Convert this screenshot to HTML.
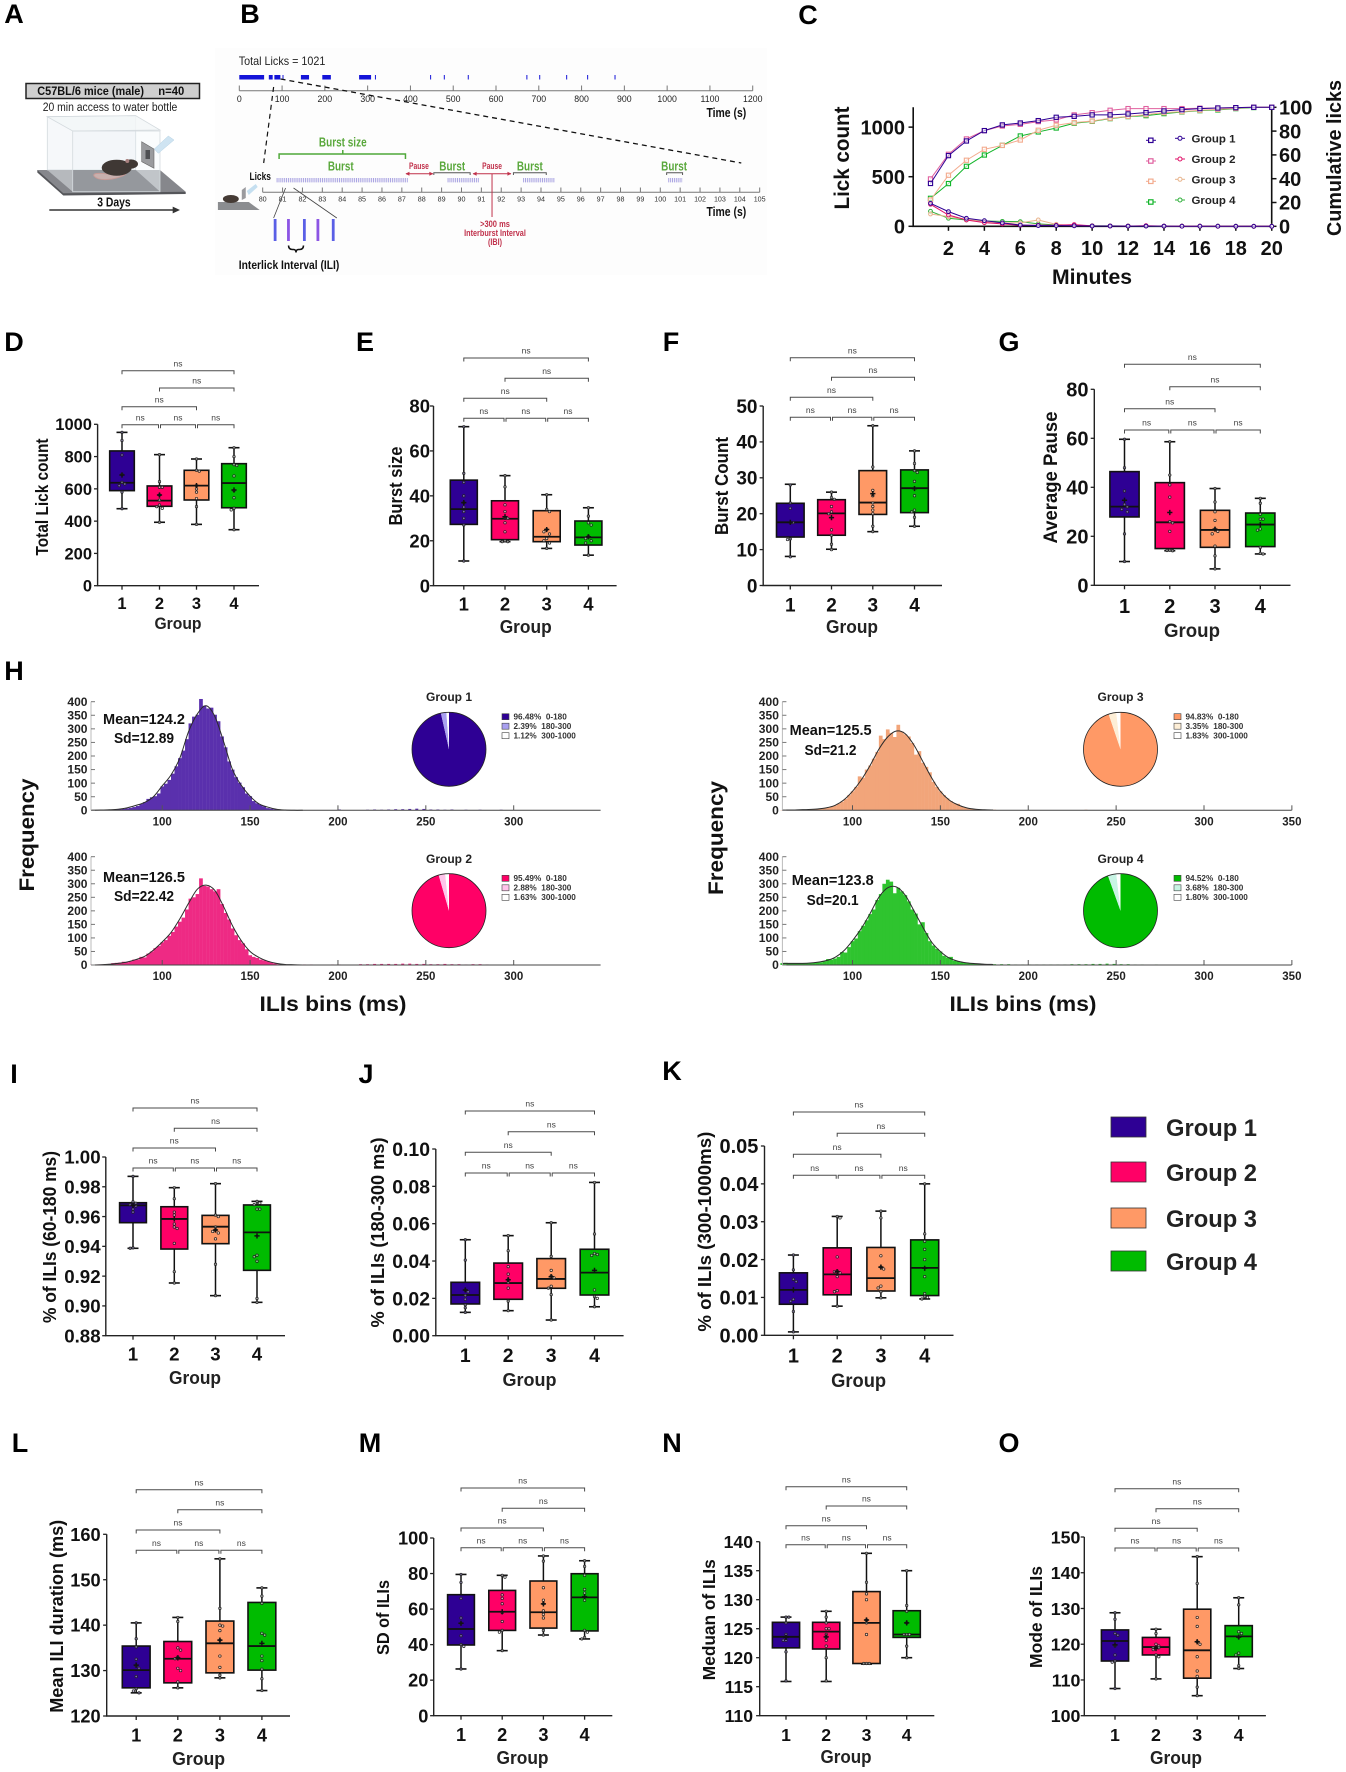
<!DOCTYPE html>
<html lang="en">
<head>
<meta charset="utf-8">
<title>Lick microstructure figure</title>
<style>
html,body{margin:0;padding:0;background:#fff;}
#figure{display:block;position:absolute;left:0;top:0;font-family:"Liberation Sans",sans-serif;}
.letter{font-size:27px;font-weight:700;fill:#000;text-anchor:middle;}
.ytitle{font-weight:700;fill:#111;text-anchor:middle;}
.grouplabel{font-weight:700;fill:#222;text-anchor:middle;}
.big{font-weight:700;fill:#111;text-anchor:middle;}
.stat{font-weight:700;fill:#111;font-size:15px;}
.pietitle{font-weight:700;fill:#222;font-size:12px;text-anchor:middle;}
</style>
</head>
<body>
<svg id="figure" xmlns="http://www.w3.org/2000/svg" width="1346" height="1772" viewBox="0 0 1346 1772">
<rect width="1346" height="1772" fill="#ffffff"/>

<!-- panel letters -->
<g>
<text class="letter" x="14" y="23">A</text>
<text class="letter" x="250" y="23">B</text>
<text class="letter" x="808" y="24">C</text>
<text class="letter" x="14" y="351">D</text>
<text class="letter" x="365" y="351">E</text>
<text class="letter" x="671" y="351">F</text>
<text class="letter" x="1009" y="351">G</text>
<text class="letter" x="14" y="680">H</text>
<text class="letter" x="14" y="1083">I</text>
<text class="letter" x="366" y="1083">J</text>
<text class="letter" x="672" y="1080">K</text>
<text class="letter" x="20" y="1452">L</text>
<text class="letter" x="370" y="1452">M</text>
<text class="letter" x="672" y="1452">N</text>
<text class="letter" x="1009" y="1452">O</text>
</g>

<!-- Panel A -->
<g>
<rect x="26" y="83.5" width="173.5" height="15" fill="#cfcfcf" stroke="#222" stroke-width="1.5"/>
<text x="37.3" y="95" font-size="12" font-weight="700" fill="#111" textLength="106.7" lengthAdjust="spacingAndGlyphs">C57BL/6 mice (male)</text>
<text x="158.3" y="95" font-size="12" font-weight="700" fill="#111" textLength="26" lengthAdjust="spacingAndGlyphs">n=40</text>
<text x="42.7" y="111" font-size="11.5" fill="#222" textLength="134.6" lengthAdjust="spacingAndGlyphs">20 min access to water bottle</text>
<polygon points="37.3,170 37.3,172.5 63.3,195.5 185.7,194 185.7,191.7" fill="#55565a"/>
<polygon points="37.3,170 160,170 185.7,191.7 63.3,193.3" fill="#86878c"/>
<polygon points="47.3,116.7 135.7,115.7 135.7,170 47.3,170" fill="#f6f8fa" stroke="#d4dade" stroke-width=".8"/>
<polygon points="47.3,170 72.7,170 72.7,191.7" fill="#b6b9bd"/>
<polygon points="135.7,170 160,170 160,191.7" fill="#b6b9bd"/>
<polygon points="72.7,170 135.7,170 160,191.7 72.7,191.7" fill="#7e7f85"/>
<polygon points="47.3,116.7 135.7,115.7 160,130 72.7,131" fill="#f2f6f8" fill-opacity=".8" stroke="#d4dade" stroke-width=".8"/>
<rect x="72.7" y="131" width="87.3" height="60.7" fill="#eaf0f4" fill-opacity=".22" stroke="#d4dade" stroke-width=".8"/>
<polygon points="141.7,141.7 154,149 154,168.3 141.7,161.7" fill="#9a9b9e" stroke="#666" stroke-width=".6"/>
<rect x="145.5" y="150" width="4.5" height="9" fill="#4f5053"/>
<polygon points="154.3,149 168.3,136 174,140 158.3,153.3" fill="#cfe4f2" stroke="#b5d2e4" stroke-width=".5"/>
<path d="M108 174 Q92 172 94 176 Q98 181 112 179 Q122 177 126 174" fill="#d9b8b4" fill-opacity=".75" stroke="#c79a96" stroke-width="1"/>
<ellipse cx="116.7" cy="167.7" rx="15" ry="8" fill="#3f3834"/>
<ellipse cx="131" cy="164" rx="7" ry="4.6" fill="#3f3834"/>
<circle cx="127.3" cy="161" r="2" fill="#a8807e"/>
<text x="97.3" y="206.3" font-size="13" font-weight="700" fill="#111" textLength="33.4" lengthAdjust="spacingAndGlyphs">3 Days</text>
<line x1="49.3" y1="210" x2="174" y2="210" stroke="#333" stroke-width="1.6"/>
<polygon points="172.7,206.6 180,210 172.7,213.4" fill="#333"/>
</g>

<!-- Panel B static annotation -->
<g transform="scale(.995 1)">
<rect x="216" y="48" width="555" height="227" fill="#fdfdfd"/>
<text x="240" y="65" font-size="11.5" fill="#222" textLength="87" lengthAdjust="spacingAndGlyphs">Total Licks = 1021</text>
<g id="panel-b-dynamic"></g>
<text x="710" y="117" font-size="12.5" font-weight="700" fill="#111" textLength="40" lengthAdjust="spacingAndGlyphs">Time (s)</text>
<text x="710" y="216" font-size="12.5" font-weight="700" fill="#111" textLength="40" lengthAdjust="spacingAndGlyphs">Time (s)</text>
<line x1="275" y1="87" x2="265" y2="163" stroke="#111" stroke-width="1.2" stroke-dasharray="5 4"/>
<line x1="282" y1="79" x2="745" y2="163" stroke="#111" stroke-width="1.3" stroke-dasharray="5 4"/>
<text x="344.5" y="146.5" font-size="13" font-weight="700" fill="#5aa83c" text-anchor="middle" textLength="48" lengthAdjust="spacingAndGlyphs">Burst size</text>
<path d="M280.5 159 V154 H407.5 V159 M344.5 154 V150" fill="none" stroke="#4fa83a" stroke-width="1.5"/>
<g font-size="13" font-weight="700" fill="#5aa83c" text-anchor="middle">
<text x="342.5" y="170.5" textLength="26" lengthAdjust="spacingAndGlyphs">Burst</text>
<text x="454.5" y="170.5" textLength="26" lengthAdjust="spacingAndGlyphs">Burst</text>
<text x="532.5" y="170.5" textLength="26" lengthAdjust="spacingAndGlyphs">Burst</text>
<text x="677.5" y="170.5" textLength="26" lengthAdjust="spacingAndGlyphs">Burst</text>
</g>
<path d="M436 175 V172.7 H472.5 V175 M516 175 V172.7 H549 V175 M670 175 V172.7 H686 V175" fill="none" stroke="#555" stroke-width="1"/>
<g fill="#c0304a" font-size="9" font-weight="700" text-anchor="middle">
<text x="421" y="169" textLength="20" lengthAdjust="spacingAndGlyphs">Pause</text>
<text x="494.5" y="169" textLength="20" lengthAdjust="spacingAndGlyphs">Pause</text>
<path d="M408 173.7 H435 M475.5 173.7 H513.5" stroke="#c0304a" stroke-width="1" fill="none"/>
<path d="M407.5 173.7 l4 -2 v4 z M435.5 173.7 l-4 -2 v4 z M475 173.7 l4 -2 v4 z M514 173.7 l-4 -2 v4 z"/>
<line x1="494.5" y1="174" x2="494.5" y2="217" stroke="#c0304a" stroke-width="1"/>
<text x="497.5" y="227" textLength="30" lengthAdjust="spacingAndGlyphs">&gt;300 ms</text>
<text x="497.5" y="236" textLength="62" lengthAdjust="spacingAndGlyphs">Interburst Interval</text>
<text x="497.5" y="245" textLength="14" lengthAdjust="spacingAndGlyphs">(IBI)</text>
</g>
<text x="261.5" y="180" font-size="11" font-weight="700" fill="#111" text-anchor="middle" textLength="21.5" lengthAdjust="spacingAndGlyphs">Licks</text>
<polygon points="219,202 250,202 261,210 219,210" fill="#8b8d90"/>
<ellipse cx="232" cy="199" rx="8" ry="4" fill="#453b35"/>
<polygon points="243,190 247,187 247,198 243,200" fill="#9a9a9e"/>
<polygon points="248,191 257,184 259,187 250,195" fill="#c5dff0"/>
<path d="M287 188 L275 218 M295 188 L338.5 218" fill="none" stroke="#444" stroke-width=".8"/>
<path d="M290 245.5 q0 4 4 4 h1 q2.5 0 2.5 3 q0 -3 2.5 -3 h1 q4 0 4 -4" fill="none" stroke="#111" stroke-width="1.6"/>
<text x="240" y="269" font-size="12" font-weight="700" fill="#111" textLength="101" lengthAdjust="spacingAndGlyphs">Interlick Interval (ILI)</text>
</g>

<!-- Panel C static titles -->
<text class="ytitle" font-size="21" transform="translate(849 158) rotate(-90)" textLength="103" lengthAdjust="spacingAndGlyphs">Lick count</text>
<text class="ytitle" font-size="20" transform="translate(1341 158) rotate(-90)" textLength="156" lengthAdjust="spacingAndGlyphs">Cumulative licks</text>
<text class="big" x="1092" y="284" font-size="21" textLength="80" lengthAdjust="spacingAndGlyphs">Minutes</text>

<!-- Box panel titles -->
<g>
<text class="ytitle" font-size="17.5" transform="translate(48 497) rotate(-90)" textLength="117" lengthAdjust="spacingAndGlyphs">Total Lick count</text>
<text class="grouplabel" x="178" y="629" font-size="16.5" textLength="47" lengthAdjust="spacingAndGlyphs">Group</text>
<text class="ytitle" font-size="18.5" transform="translate(402 486) rotate(-90)" textLength="79" lengthAdjust="spacingAndGlyphs">Burst size</text>
<text class="grouplabel" x="525.7" y="633" font-size="18" textLength="52" lengthAdjust="spacingAndGlyphs">Group</text>
<text class="ytitle" font-size="18.5" transform="translate(728 486) rotate(-90)" textLength="98" lengthAdjust="spacingAndGlyphs">Burst Count</text>
<text class="grouplabel" x="852" y="633" font-size="18" textLength="52" lengthAdjust="spacingAndGlyphs">Group</text>
<text class="ytitle" font-size="19.5" transform="translate(1057 477.5) rotate(-90)" textLength="132" lengthAdjust="spacingAndGlyphs">Average Pause</text>
<text class="grouplabel" x="1192" y="637" font-size="19" textLength="56" lengthAdjust="spacingAndGlyphs">Group</text>
<text class="ytitle" font-size="18.5" transform="translate(56 1237) rotate(-90)" textLength="172" lengthAdjust="spacingAndGlyphs">% of ILIs (60-180 ms)</text>
<text class="grouplabel" x="195" y="1384" font-size="18" textLength="52" lengthAdjust="spacingAndGlyphs">Group</text>
<text class="ytitle" font-size="18.5" transform="translate(384 1232.5) rotate(-90)" textLength="190" lengthAdjust="spacingAndGlyphs">% of ILIs (180-300 ms)</text>
<text class="grouplabel" x="529.5" y="1386" font-size="18.5" textLength="54" lengthAdjust="spacingAndGlyphs">Group</text>
<text class="ytitle" font-size="18.5" transform="translate(711 1231.7) rotate(-90)" textLength="200" lengthAdjust="spacingAndGlyphs">% of ILIs (300-1000ms)</text>
<text class="grouplabel" x="858.6" y="1387" font-size="19" textLength="55" lengthAdjust="spacingAndGlyphs">Group</text>
<text class="ytitle" font-size="18.5" transform="translate(63 1616.3) rotate(-90)" textLength="193" lengthAdjust="spacingAndGlyphs">Mean ILI duration (ms)</text>
<text class="grouplabel" x="198.6" y="1765" font-size="18.5" textLength="53" lengthAdjust="spacingAndGlyphs">Group</text>
<text class="ytitle" font-size="17.5" transform="translate(389 1617.5) rotate(-90)" textLength="75" lengthAdjust="spacingAndGlyphs">SD of ILIs</text>
<text class="grouplabel" x="522.5" y="1764" font-size="18" textLength="52" lengthAdjust="spacingAndGlyphs">Group</text>
<text class="ytitle" font-size="17.5" transform="translate(715 1619.7) rotate(-90)" textLength="121" lengthAdjust="spacingAndGlyphs">Meduan of ILIs</text>
<text class="grouplabel" x="846" y="1763" font-size="18" textLength="51" lengthAdjust="spacingAndGlyphs">Group</text>
<text class="ytitle" font-size="17.5" transform="translate(1042 1617) rotate(-90)" textLength="102" lengthAdjust="spacingAndGlyphs">Mode of ILIs</text>
<text class="grouplabel" x="1176" y="1764" font-size="18" textLength="52" lengthAdjust="spacingAndGlyphs">Group</text>
</g>

<!-- Panel H static text -->
<g>
<text class="ytitle" font-size="21" transform="translate(34 835) rotate(-90)" textLength="113" lengthAdjust="spacingAndGlyphs">Frequency</text>
<text class="ytitle" font-size="21" transform="translate(723 838) rotate(-90)" textLength="114" lengthAdjust="spacingAndGlyphs">Frequency</text>
<text class="big" x="333" y="1011" font-size="21" textLength="147" lengthAdjust="spacingAndGlyphs">ILIs bins (ms)</text>
<text class="big" x="1023" y="1011" font-size="21" textLength="147" lengthAdjust="spacingAndGlyphs">ILIs bins (ms)</text>
</g>

<g id="charts"></g>

<!-- Histogram annotations drawn above bars -->
<g>
<text class="stat" x="103" y="724" textLength="82" lengthAdjust="spacingAndGlyphs">Mean=124.2</text>
<text class="stat" x="114" y="743" textLength="60" lengthAdjust="spacingAndGlyphs">Sd=12.89</text>
<text class="pietitle" x="449" y="701">Group 1</text>
<text class="stat" x="103" y="882" textLength="82" lengthAdjust="spacingAndGlyphs">Mean=126.5</text>
<text class="stat" x="114" y="901" textLength="60" lengthAdjust="spacingAndGlyphs">Sd=22.42</text>
<text class="pietitle" x="449" y="863">Group 2</text>
<text class="stat" x="789.6" y="735" textLength="82" lengthAdjust="spacingAndGlyphs">Mean=125.5</text>
<text class="stat" x="804.5" y="755" textLength="52" lengthAdjust="spacingAndGlyphs">Sd=21.2</text>
<text class="pietitle" x="1120.5" y="701">Group 3</text>
<text class="stat" x="791.7" y="885" textLength="82" lengthAdjust="spacingAndGlyphs">Mean=123.8</text>
<text class="stat" x="806.6" y="905" textLength="52" lengthAdjust="spacingAndGlyphs">Sd=20.1</text>
<text class="pietitle" x="1120.5" y="863">Group 4</text>
</g>

<!-- Shared legend -->
<g font-size="24" font-weight="700" fill="#222">
<rect x="1111" y="1117" width="35" height="20" fill="#2e0094" stroke="#333" stroke-width=".8"/>
<text x="1166" y="1136" textLength="91" lengthAdjust="spacingAndGlyphs">Group 1</text>
<rect x="1111" y="1162" width="35" height="20" fill="#ff0066" stroke="#333" stroke-width=".8"/>
<text x="1166" y="1181" textLength="91" lengthAdjust="spacingAndGlyphs">Group 2</text>
<rect x="1111" y="1208" width="35" height="20" fill="#ff9966" stroke="#333" stroke-width=".8"/>
<text x="1166" y="1227" textLength="91" lengthAdjust="spacingAndGlyphs">Group 3</text>
<rect x="1111" y="1251" width="35" height="20" fill="#00bb00" stroke="#333" stroke-width=".8"/>
<text x="1166" y="1270" textLength="91" lengthAdjust="spacingAndGlyphs">Group 4</text>
</g>
</svg>

<script>
/* ---------- Panel B data ---------- */
const overviewTicks = [0,100,200,300,400,500,600,700,800,900,1000,1100,1200];
const lickRunStarts = [0,69,82,101,144,194,280,317,446,478,534,671,701,764,813,877];
const lickRunEnds   = [58,78,96,102,163,214,308,319,447,479,535,672,702,765,814,878];
const zoomTicks = [80,81,82,83,84,85,86,87,88,89,90,91,92,93,94,95,96,97,98,99,100,101,102,103,104,105];
const burstStarts = [80.7,89.3,93.1,100.4];
const burstEnds   = [87.3,90.9,94.7,101.1];
const iliSample = [0,0.67,1.47,2.15,2.92];

/* ---------- Panel C data ---------- */
const minutes = [1,2,3,4,5,6,7,8,9,10,11,12,13,14,15,16,17,18,19,20];
const cMinuteTicks = [2,4,6,8,10,12,14,16,18,20];
const cLeftTicks = [0,500,1000];
const cRightTicks = [0,20,40,60,80,100];
const cumG1 = [36,59.4,71.7,80.4,85.2,86.8,88.8,91.6,92.4,93.6,93.6,94.4,95.5,96.9,98,98.9,99.4,99.7,100,100];
const cumG2 = [39.8,60.5,73.4,80.4,84.3,85.7,88,89.4,93.6,95.5,97.5,98.9,98.9,98.9,98.9,99.2,99.4,99.7,100,100];
const cumG3 = [22.1,42.9,55.5,64.7,68,72.5,80.7,84.9,87.1,88.5,90.8,92.4,93.8,95.5,96.4,97.5,98.3,99.2,100,100];
const cumG4 = [23.5,35.9,50.4,59.9,68,75.9,79.3,82.6,86.6,88.2,90.5,92.2,93,94.7,96.1,97.2,97.8,98.9,99.8,100];
const licksG1 = [232,148,81,57,34,13,7,7,5,3,3,2,2,2,1,1,1,0,0,0];
const licksG2 = [222,114,64,37,24,10,10,10,17,4,3,2,6,2,1,1,0,0,0,0];
const licksG3 = [124,97,71,47,34,34,64,20,8,5,4,3,3,2,2,1,1,0,0,0];
const licksG4 = [151,81,64,54,50,47,24,13,10,5,4,3,2,2,2,1,1,1,0,0];

/* ---------- Box panel data ---------- */
const groupLabels = ['1','2','3','4'];

const dTicks = [0,200,400,600,800,1000];
const dTickLabels = ['0','200','400','600','800','1000'];
const dLow = [477,393,380,347];
const dQ1 = [589,492,531,483];
const dMed = [638,527,620,636];
const dQ3 = [835,618,715,756];
const dHigh = [950,812,785,855];
const dMean = [686,562,620,593];
const dPoints = [[950,900,810,690,640,630,620,580,477],[812,645,610,610,562,530,500,490,480,393],[785,715,710,620,600,580,540,490,380],[855,800,750,745,680,590,545,480,470,347]];

const eTicks = [0,20,40,60,80];
const eTickLabels = ['0','20','40','60','80'];
const eLow = [11,19.6,16.6,13.6];
const eQ1 = [27.3,20.5,19.6,18.1];
const eMed = [34.1,29.8,21.8,21.5];
const eQ3 = [47,37.8,33.4,28.8];
const eHigh = [70.8,49,40.5,34.7];
const eMean = [37,30.7,25,21.8];
const ePoints = [[70.8,50,46,40,37,35,33,30,27,11],[49,44,36,33,30,30,28,24,20,19.6,19.6],[40.5,34,33,25,24,23,21,20,19,16.6],[34.7,31,28,27,22,21,20,19,13.6]];

const fTicks = [0,10,20,30,40,50];
const fTickLabels = ['0','10','20','30','40','50'];
const fLow = [8.1,10.1,15,16.5];
const fQ1 = [13.5,14,19.8,20.3];
const fMed = [17.6,20.1,23.1,27.1];
const fQ3 = [22.9,23.9,32,32.2];
const fHigh = [28.2,26,44.5,37.5];
const fMean = [17.6,18.9,25.6,27];
const fPoints = [[28,23,21.5,17.5,17.5,13,12.8,8],[26,24.5,24,22,20.5,20,15.5,14,11.5,10],[44.5,33,26.5,25,23,22,21,20,16.5,15],[37.5,34,32,31.5,29,25,21,20.5,19,16.5]];

const gTicks = [0,20,40,60,80];
const gTickLabels = ['0','20','40','60','80'];
const gLow = [9.7,14.1,6.7,12.8];
const gQ1 = [27.9,15,15.5,15.8];
const gMed = [32.1,25.7,22.6,24.8];
const gQ3 = [46.4,41.9,30.6,29.5];
const gHigh = [59.6,58.6,39.5,35.5];
const gMean = [34.7,29.7,22.9,24.8];
const gPoints = [[59.6,48,38.5,33,32,31,30,21,9.7],[58.6,45,41,36,26,25.5,22,14.3,14.2,14.1],[39.5,34,30,26.5,23,22,21,16,12,6.7],[35.5,33.5,29,27,27,23,22.5,15.5,13,12.8]];

const iTicks = [0.88,0.90,0.92,0.94,0.96,0.98,1.00];
const iTickLabels = ['0.88','0.90','0.92','0.94','0.96','0.98','1.00'];
const iLow = [0.9387,0.9154,0.9069,0.9024];
const iQ1 = [0.9559,0.9382,0.9418,0.9239];
const iMed = [0.9675,0.9584,0.9532,0.9494];
const iQ3 = [0.9693,0.9666,0.9608,0.9678];
const iHigh = [0.987,0.9794,0.9821,0.9702];
const iMean = [0.9675,0.9584,0.951,0.947];
const iPoints = [[0.987,0.970,0.969,0.968,0.967,0.965,0.963,0.939,0.9387],[0.9794,0.972,0.963,0.961,0.955,0.953,0.952,0.942,0.923,0.9154],[0.9821,0.961,0.96,0.953,0.951,0.95,0.949,0.945,0.928,0.9069],[0.9702,0.969,0.968,0.965,0.965,0.934,0.933,0.93,0.905,0.9024]];

const jTicks = [0,0.02,0.04,0.06,0.08,0.10];
const jTickLabels = ['0.00','0.02','0.04','0.06','0.08','0.10'];
const jLow = [0.0125,0.0134,0.0084,0.0155];
const jQ1 = [0.017,0.0195,0.0254,0.0218];
const jMed = [0.0218,0.0282,0.0304,0.0338];
const jQ3 = [0.0286,0.0389,0.0413,0.0463];
const jHigh = [0.0514,0.0536,0.0605,0.0821];
const jMean = [0.0245,0.03,0.0316,0.035];
const jPoints = [[0.0514,0.0405,0.0245,0.0235,0.0215,0.0195,0.0165,0.015,0.0125],[0.0536,0.0455,0.037,0.033,0.03,0.0285,0.0255,0.0185,0.0134],[0.0605,0.0425,0.035,0.032,0.031,0.0265,0.0255,0.022,0.0084],[0.0821,0.0545,0.044,0.0435,0.043,0.0245,0.021,0.02,0.0155]];

const kTicks = [0,0.01,0.02,0.03,0.04,0.05];
const kTickLabels = ['0.00','0.01','0.02','0.03','0.04','0.05'];
const kLow = [0.0009,0.0077,0.0099,0.0096];
const kQ1 = [0.0082,0.0107,0.0117,0.0105];
const kMed = [0.012,0.0161,0.0151,0.0178];
const kQ3 = [0.0165,0.0231,0.0232,0.0252];
const kHigh = [0.0212,0.0314,0.0328,0.04];
const kMean = [0.012,0.0168,0.018,0.0177];
const kPoints = [[0.0212,0.0173,0.0148,0.0142,0.0095,0.009,0.0063,0.0009],[0.0314,0.031,0.0207,0.017,0.0168,0.0165,0.0155,0.0118,0.0115,0.0077],[0.0328,0.031,0.021,0.018,0.0175,0.013,0.0125,0.0115,0.0099],[0.04,0.0268,0.0248,0.0227,0.02,0.0155,0.011,0.0102,0.01,0.0096]];

const lTicks = [120,130,140,150,160];
const lTickLabels = ['120','130','140','150','160'];
const lLow = [125.1,126.2,128.4,125.6];
const lQ1 = [126.2,127.3,129.5,130.1];
const lMed = [130.1,132.6,136,135.4];
const lQ3 = [135.4,136.4,140.9,145];
const lHigh = [140.5,141.7,154.6,148.2];
const lMean = [131.2,132.8,136.7,136];
const lPoints = [[140.5,137,135.2,132.5,131,130.5,128.7,126,125.5,125.1],[141.7,140.8,135,134.5,133,132.6,130.5,130,127.5,126.2],[154.6,143.7,140,139.8,138.8,136.7,133.2,130.7,129,128.4],[148.2,146.4,144.8,138.2,137.8,133.2,132.2,130.3,128.2,125.6]];

const mTicks = [0,20,40,60,80,100];
const mTickLabels = ['0','20','40','60','80','100'];
const mLow = [26.3,36.6,45.4,43.2];
const mQ1 = [39.8,48,49.3,47.7];
const mMed = [48.8,58.5,58.2,66.6];
const mQ3 = [68.1,70.5,75.8,79.9];
const mHigh = [79.5,79,89.9,87.2];
const mMean = [52,58.5,62.9,67];
const mPoints = [[79.5,75,66,55,52,45,40,39,26.3],[79,78,68,66,63,58,53,48,47,36.6],[89.9,87,72,65,63,59,57,55,48,45.4],[87.2,84,79,71,69,65,48,47,44,43.2]];

const nTicks = [110,115,120,125,130,135,140];
const nTickLabels = ['110','115','120','125','130','135','140'];
const nLow = [115.9,115.9,118.9,120];
const nQ1 = [121.7,121.5,119,123.5];
const nMed = [123.6,124.5,126,124];
const nQ3 = [126.1,126.1,131.4,128.1];
const nHigh = [127,128,138,135];
const nMean = [123.5,123.6,126.5,126];
const nPoints = [[127,127,126,124,123,123,121,116],[128,127,126,125,125,124,123.5,123,122,120,116],[138,133,131,130,126.5,126,124,119,119,119],[135,129,128,126,124,124,124,124,122,120]];

const oTicks = [100,110,120,130,140,150];
const oTickLabels = ['100','110','120','130','140','150'];
const oLow = [107.6,110.3,105.6,113.2];
const oQ1 = [115.3,117,110.5,116.5];
const oMed = [120.9,119.2,118.3,122.2];
const oQ3 = [124,121.9,129.8,125.2];
const oHigh = [128.8,124.2,144.5,133];
const oMean = [119.8,118.8,120.7,122];
const oPoints = [[128.8,127,123,122.5,119.5,117,115.3,115,107.6],[124.2,123,120,119.5,119,119,118.5,117,116.5,110.3],[144.5,137,127.5,125,120.7,120,116.5,112.5,111,108,105.6],[133,131,123.5,123,122,117.5,117,114,113.2]];

/* ---------- Histogram data (frequency per 2 ms bin centred from 60 ms) ---------- */
const histFreqTicks = [0,50,100,150,200,250,300,350,400];
const histMsTicksShort = [100,150,200,250,300];
const histMsTicksLong = [100,150,200,250,300,350];
const barsG1 = [0,0,0,1,1,2,3,3,4,5,7,9,12,16,23,30,42,48,52,62,88,98,112,135,162,192,220,262,320,345,352,410,385,375,378,352,328,272,232,180,150,122,102,85,62,52,34,26,20,14,8,6,4,2,1,1,1,0,0,0];
const barsG2 = [1,1,2,2,3,4,7,8,9,12,10,14,20,20,30,28,42,50,62,70,84,92,108,122,142,160,175,205,245,250,262,320,292,290,280,272,280,225,192,168,135,110,92,80,58,36,30,26,20,17,14,9,6,3,2,2,1,1,1,1];
const barsG3 = [1,1,1,1,2,2,2,3,3,4,5,6,8,10,14,18,24,32,42,56,70,86,125,120,150,165,190,215,275,262,298,285,270,315,290,280,272,248,205,218,175,160,140,105,86,70,56,44,34,26,24,14,10,8,6,4,3,3,2,1];
const barsG4 = [7,8,6,6,7,6,6,7,7,8,9,10,14,22,20,24,30,48,46,66,88,98,125,145,165,188,205,240,262,300,315,308,265,285,272,258,235,205,190,150,158,118,88,72,60,50,34,28,30,16,14,10,8,7,6,5,4,4,3,3];
/* fitted curve, read every 5 ms from 60 ms */
const curveG1 = [0,1,2,4,9,18,29,50,90,130,192,290,355,385,345,252,150,92,52,24,12,4,1,0,0];
const curveG2 = [0,1,3,6,11,20,32,55,85,120,170,228,280,295,275,215,145,90,50,28,14,6,2,1,0];
const curveG3 = [1,1,2,3,5,9,18,38,70,112,165,225,270,292,282,240,180,120,70,38,20,9,4,2,1];
const curveG4 = [6,6,6,7,10,16,28,52,90,135,190,250,285,288,258,200,140,85,50,26,14,8,5,3,2];
/* sparse tail, read every 4 ms from 180 ms */
const tailG1 = [0,1,0,1,1,3,1,0,1,2,3,2,3,4,4,5,6,5,3,3,2,3,1,2,1,2,1,1,2,1,0,1,0,0,1,0,0,0,0,0,0];
const tailG2 = [2,2,1,1,2,2,1,1,3,3,4,4,4,4,5,5,4,4,3,3,4,3,3,2,3,3,2,1,1,1,0,0,1,0,0,0,0,0,0,0,0];
const tailG3 = [2,1,1,1,1,1,1,1,1,1,1,1,1,2,1,1,1,1,1,1,1,1,1,1,0,1,0,0,0,0,0,0,0,0,0,0,0,0,0,0,0];
const tailG4 = [3,3,3,2,2,2,2,2,2,2,2,3,3,3,4,4,5,4,3,3,2,2,1,2,1,1,1,1,1,1,1,1,1,0,0,0,0,0,0,0,0];

/* pie shares */
const pieLabels = ['0-180','180-300','300-1000'];
const shareG1 = [96.48,2.39,1.12];
const shareG2 = [95.49,2.88,1.63];
const shareG3 = [94.83,3.35,1.83];
const shareG4 = [94.52,3.68,1.80];
const sharePrintedG1 = ['96.48%','2.39%','1.12%'];
const sharePrintedG2 = ['95.49%','2.88%','1.63%'];
const sharePrintedG3 = ['94.83%','3.35%','1.83%'];
const sharePrintedG4 = ['94.52%','3.68%','1.80%'];

/* ---------- Styling and layout (not data) ---------- */
const groupFill = ['#2e0094','#ff0066','#ff9966','#00bb00'];
const NS = 'http://www.w3.org/2000/svg';
const chartsRoot = document.getElementById('charts');

function mk(parent, tag, attrs, txt) {
  const el = document.createElementNS(NS, tag);
  for (const k in attrs) el.setAttribute(k, attrs[k]);
  if (txt !== undefined) el.textContent = txt;
  parent.appendChild(el);
  return el;
}

/* ---------- Panel B ---------- */
(function drawPanelB() {
  const root = document.getElementById('panel-b-dynamic');
  const ox = s => 240.5 + s * 0.43;
  const zx = s => 264 + (s - 80) * 19.98;
  lickRunStarts.forEach((s, i) => {
    const r = mk(root, 'rect', {x: ox(s), y: 75, width: Math.max(1, ox(lickRunEnds[i]) - ox(s)), height: 4.5, fill: '#1414d8'});
    
    
  });
  const a1 = mk(root, 'line', {x1: ox(0), x2: ox(1200), y1: 90.7, y2: 90.7, stroke: '#777', 'stroke-width': 1});
  
  
  overviewTicks.forEach(t => {
    const tk = mk(root, 'line', {x1: ox(t), x2: ox(t), y1: 85.5, y2: 90.7, stroke: '#777', 'stroke-width': 1});
    
    
    const lb = mk(root, 'text', {x: ox(t), y: 102, 'font-size': 8.8, 'text-anchor': 'middle', fill: '#222'}, String(t));
    
    
  });
  burstStarts.forEach((s, i) => {
    const b = mk(root, 'line', {x1: zx(s), x2: zx(burstEnds[i]), y1: 180.2, y2: 180.2, stroke: '#aaa4e2', 'stroke-width': 4.4, 'stroke-dasharray': '1 .9'});
    
    
  });
  const a2 = mk(root, 'line', {x1: zx(80), x2: zx(105), y1: 192.3, y2: 192.3, stroke: '#777', 'stroke-width': 1});
  
  
  zoomTicks.forEach(t => {
    const tk = mk(root, 'line', {x1: zx(t), x2: zx(t), y1: 187.5, y2: 192.3, stroke: '#777', 'stroke-width': 1});
    
    
    const lb = mk(root, 'text', {x: zx(t), y: 201.5, 'font-size': 7.2, 'text-anchor': 'middle', fill: '#333'}, String(t));
    
    
  });
  const ix = s => 276.5 + s * 20;
  iliSample.forEach((s, i) => {
    const b = mk(root, 'rect', {x: ix(s) - 1.4, y: 219, width: 2.8, height: 22, fill: i % 2 ? '#8c55e4' : '#5a5fe6'});
    
    
  });
})();

/* ---------- Panel C ---------- */
(function drawPanelC() {
  const g = mk(chartsRoot, 'g', {});
  
  
  const y0 = 226.3, yT = 107.3;
  const X = m => 930.5 + (m - 1) * 17.96;
  const YL = v => y0 - v / 1200 * (y0 - yT);
  const YR = v => y0 - v / 100 * (y0 - yT);
  const fs = 20;
  const axis = mk(g, 'path', {d: `M913.2 ${yT} V${y0} H1271.7 V${yT}`, fill: 'none', stroke: '#111', 'stroke-width': 1.6});
  
  
  cLeftTicks.forEach(t => {
    const tk = mk(g, 'line', {x1: 908.5, x2: 913.2, y1: YL(t), y2: YL(t), stroke: '#111', 'stroke-width': 1.5});
    
    
    const lb = mk(g, 'text', {x: 905, y: YL(t), dy: '.36em', 'font-size': fs, 'font-weight': 700, 'text-anchor': 'end', fill: '#111'}, String(t));
    
    
  });
  cRightTicks.forEach(t => {
    const tk = mk(g, 'line', {x1: 1271.7, x2: 1276.5, y1: YR(t), y2: YR(t), stroke: '#111', 'stroke-width': 1.5});
    
    
    const lb = mk(g, 'text', {x: 1279, y: YR(t), dy: '.36em', 'font-size': fs, 'font-weight': 700, fill: '#111'}, String(t));
    
    
  });
  cMinuteTicks.forEach(t => {
    const tk = mk(g, 'line', {x1: X(t), x2: X(t), y1: y0, y2: y0 + 4.5, stroke: '#111', 'stroke-width': 1.5});
    
    
    const lb = mk(g, 'text', {x: X(t), y: 248, dy: '.36em', 'font-size': fs, 'font-weight': 700, 'text-anchor': 'middle', fill: '#111'}, String(t));
    
    
  });
  const cumSeries = [cumG4, cumG3, cumG2, cumG1];
  const lickSeries = [licksG4, licksG3, licksG2, licksG1];
  const sqCol = ['#12b52a', '#f3ab8e', '#e0609f', '#2e0094'];
  const cirCol = ['#2faf3a', '#e8b48c', '#e01068', '#2e0094'];
  function line(values, Y, col, name) {
    const pl = mk(g, 'polyline', {points: values.map((v, i) => X(minutes[i]) + ',' + Y(v)).join(' '), fill: 'none', stroke: col, 'stroke-width': 1});
    
    
  }
  cumSeries.forEach((s, k) => {
    line(s, YR, sqCol[k], 'cumulative-licks-line');
    s.forEach((v, i) => {
      const m = mk(g, 'rect', {x: X(minutes[i]) - 2.1, y: YR(v) - 2.1, width: 4.2, height: 4.2, fill: '#fff', 'fill-opacity': .6, stroke: sqCol[k], 'stroke-width': 1.1});
      
      
    });
  });
  lickSeries.forEach((s, k) => {
    line(s, YL, cirCol[k], 'lick-count-line');
    s.forEach((v, i) => {
      const m = mk(g, 'circle', {cx: X(minutes[i]), cy: YL(v), r: 1.9, fill: '#fff', 'fill-opacity': .6, stroke: cirCol[k], 'stroke-width': 1});
      
      
    });
  });
  const legY = [138.3, 159, 179.3, 200];
  const legNames = ['Group 1', 'Group 2', 'Group 3', 'Group 4'];
  legY.forEach((ly, i) => {
    const sc = sqCol[3 - i], cc = cirCol[3 - i];
    const l1 = mk(g, 'line', {x1: 1146, x2: 1156, y1: ly + 2, y2: ly + 2, stroke: sc, 'stroke-width': 1});
    
    
    const s1 = mk(g, 'rect', {x: 1148.6, y: ly - .2, width: 4.4, height: 4.4, fill: '#fff', stroke: sc, 'stroke-width': 1.2});
    
    
    const l2 = mk(g, 'line', {x1: 1175, x2: 1185, y1: ly, y2: ly, stroke: cc, 'stroke-width': 1});
    
    
    const c1 = mk(g, 'circle', {cx: 1180, cy: ly, r: 2, fill: '#fff', stroke: cc, 'stroke-width': 1});
    
    
    const t = mk(g, 'text', {x: 1191.5, y: ly + 4, 'font-size': 11, 'font-weight': 700, fill: '#222', textLength: 44, lengthAdjust: 'spacingAndGlyphs'}, legNames[i]);
    
    
  });
})();

/* ---------- Box panels ---------- */
const BRACKET_LABEL = 'ns';
function drawBoxPanel(name, L, ticks, tickLabels, low, q1, med, q3, high, mean, points) {
  const g = mk(chartsRoot, 'g', {});
  
  
  const dMin = ticks[0], dMax = ticks[ticks.length - 1];
  const Y = v => L.y0 - (v - dMin) / (dMax - dMin) * (L.y0 - L.yTop);
  const axes = mk(g, 'path', {d: `M${L.x0} ${L.yTop} V${L.y0} H${L.xEnd}`, fill: 'none', stroke: '#222', 'stroke-width': 1.4});
  
  
  ticks.forEach((t, i) => {
    const tk = mk(g, 'line', {x1: L.x0 - 3.6, x2: L.x0, y1: Y(t), y2: Y(t), stroke: '#222', 'stroke-width': 1.3});
    
    
    const lb = mk(g, 'text', {x: L.right, y: Y(t), dy: '.36em', 'font-size': L.fs, 'font-weight': 700, 'text-anchor': 'end', fill: '#111'}, tickLabels[i]);
    
    
  });
  L.xs.forEach((x, i) => {
    const tk = mk(g, 'line', {x1: x, x2: x, y1: L.y0, y2: L.y0 + 4, stroke: '#222', 'stroke-width': 1.3});
    
    
    const lb = mk(g, 'text', {x: x, y: L.xLabelY, dy: '.36em', 'font-size': L.fs, 'font-weight': 700, 'text-anchor': 'middle', fill: '#111'}, groupLabels[i]);
    
    

    const w = mk(g, 'line', {x1: x, x2: x, y1: Y(low[i]), y2: Y(high[i]), stroke: '#111', 'stroke-width': 1.5});
    
    
    [low[i], high[i]].forEach(v => {
      const cap = mk(g, 'line', {x1: x - 5.5, x2: x + 5.5, y1: Y(v), y2: Y(v), stroke: '#111', 'stroke-width': 1.6});
      
      
    });
    const box = mk(g, 'rect', {x: x - L.hw, y: Y(q3[i]), width: 2 * L.hw, height: Y(q1[i]) - Y(q3[i]), fill: groupFill[i], stroke: '#111', 'stroke-width': 1.6});
    
    
    const m = mk(g, 'line', {x1: x - L.hw, x2: x + L.hw, y1: Y(med[i]), y2: Y(med[i]), stroke: '#111', 'stroke-width': 1.8});
    
    
    let prevY = -99, side = 1;
    points[i].forEach(v => {
      const py = Y(v);
      let dx = 0;
      if (Math.abs(py - prevY) < 2.6) { dx = 2.8 * side; side = -side; }
      prevY = py;
      const p = mk(g, 'circle', {cx: x + dx, cy: py, r: 1.25, fill: i === 0 ? '#b9b0e6' : '#fff', 'fill-opacity': .55, stroke: '#222', 'stroke-width': .7});
      
      
    });
    const my = Y(mean[i]);
    const pm = mk(g, 'path', {d: `M${x - 2.6} ${my} H${x + 2.6} M${x} ${my - 2.6} V${my + 2.6}`, stroke: '#111', 'stroke-width': 1.5, fill: 'none'});
    
    
  });
  const xs = L.xs, b = L.brackets;
  const spans = [[xs[0], xs[3], b[0]], [xs[1], xs[3], b[1]], [xs[0], xs[2], b[2]], [xs[0], xs[1] - 1, b[3]], [xs[1] + 1, xs[2] - 1, b[3]], [xs[2] + 1, xs[3], b[3]]];
  spans.forEach(s => {
    const br = mk(g, 'path', {d: `M${s[0]} ${s[2] + 3.5} V${s[2]} H${s[1]} V${s[2] + 3.5}`, fill: 'none', stroke: '#4a4a4a', 'stroke-width': 1});
    
    
    const ns = mk(g, 'text', {x: (s[0] + s[1]) / 2, y: s[2] - 4.4, 'font-size': 8.5, 'text-anchor': 'middle', fill: '#444'}, BRACKET_LABEL);
    
    
  });
}

drawBoxPanel('d', {x0:97.6,xEnd:259,y0:585.7,yTop:424.3,xs:[122,159.5,196.5,234],hw:12.3,fs:16.5,right:92,xLabelY:603,brackets:[370.7,388,406.7,424.7]}, dTicks,dTickLabels,dLow,dQ1,dMed,dQ3,dHigh,dMean,dPoints);
drawBoxPanel('e', {x0:433.5,xEnd:616.6,y0:585.7,yTop:406,xs:[463.8,505,546.7,588.4],hw:13.5,fs:18.5,right:430,xLabelY:604,brackets:[358,378.3,398.3,418.3]}, eTicks,eTickLabels,eLow,eQ1,eMed,eQ3,eHigh,eMean,ePoints);
drawBoxPanel('f', {x0:763.2,xEnd:942,y0:585.5,yTop:406,xs:[790.3,831.5,872.8,914.5],hw:13.8,fs:19,right:757.5,xLabelY:604.5,brackets:[357.7,377.3,397.3,417.3]}, fTicks,fTickLabels,fLow,fQ1,fMed,fQ3,fHigh,fMean,fPoints);
drawBoxPanel('g', {x0:1094.3,xEnd:1290.5,y0:585.3,yTop:389.3,xs:[1124.5,1169.8,1215,1260.3],hw:14.6,fs:20,right:1088.5,xLabelY:606,brackets:[364.3,386.7,408.7,430]}, gTicks,gTickLabels,gLow,gQ1,gMed,gQ3,gHigh,gMean,gPoints);
drawBoxPanel('i', {x0:105.8,xEnd:285,y0:1335.7,yTop:1157,xs:[133,174.3,215.5,257],hw:13.4,fs:18.7,right:100.6,xLabelY:1354,brackets:[1108,1128.3,1148,1168]}, iTicks,iTickLabels,iLow,iQ1,iMed,iQ3,iHigh,iMean,iPoints);
drawBoxPanel('j', {x0:435.8,xEnd:623.6,y0:1335.7,yTop:1149,xs:[465.3,508.2,551.2,594.5],hw:14.3,fs:19.4,right:430,xLabelY:1355,brackets:[1111,1131.7,1152.3,1173]}, jTicks,jTickLabels,jLow,jQ1,jMed,jQ3,jHigh,jMean,jPoints);
drawBoxPanel('k', {x0:764.5,xEnd:953.5,y0:1335.3,yTop:1146,xs:[793.4,837.2,880.9,924.7],hw:14,fs:20,right:758.4,xLabelY:1355.5,brackets:[1112,1133.3,1154.3,1175.3]}, kTicks,kTickLabels,kLow,kQ1,kMed,kQ3,kHigh,kMean,kPoints);
drawBoxPanel('l', {x0:106.7,xEnd:290,y0:1716,yTop:1534.3,xs:[136.2,177.8,219.9,261.9],hw:13.9,fs:18.2,right:100.6,xLabelY:1735,brackets:[1489.7,1509.7,1530,1550.3]}, lTicks,lTickLabels,lLow,lQ1,lMed,lQ3,lHigh,lMean,lPoints);
drawBoxPanel('m', {x0:433.7,xEnd:612.3,y0:1715.7,yTop:1538,xs:[461,502.2,543.4,584.6],hw:13.4,fs:18.2,right:428.4,xLabelY:1734.5,brackets:[1488,1508.3,1528,1547.7]}, mTicks,mTickLabels,mLow,mQ1,mMed,mQ3,mHigh,mMean,mPoints);
drawBoxPanel('n', {x0:759.7,xEnd:934.3,y0:1715.7,yTop:1541.7,xs:[786,826.2,866.5,906.7],hw:13.6,fs:17.6,right:753,xLabelY:1734.5,brackets:[1486.7,1506,1525.7,1544.7]}, nTicks,nTickLabels,nLow,nQ1,nMed,nQ3,nHigh,nMean,nPoints);
drawBoxPanel('o', {x0:1084.3,xEnd:1265.9,y0:1715.7,yTop:1537,xs:[1115,1156,1197.2,1238.7],hw:13.6,fs:17.8,right:1080.4,xLabelY:1734.5,brackets:[1488.7,1508.7,1528.3,1548]}, oTicks,oTickLabels,oLow,oQ1,oMed,oQ3,oHigh,oMean,oPoints);

/* ---------- Histograms and pies ---------- */
function drawHistogram(name, L, bars, curve, tail, msTicks, barColor, share, printed, pieColors) {
  const g = mk(chartsRoot, 'g', {});
  
  
  const X = ms => L.x100 + (ms - 100) * 1.7575;
  const Y = f => L.y0 - f / 400 * (L.y0 - L.yTop);
  bars.forEach((f, i) => {
    if (f <= 0) return;
    const ms = 60 + i * 2;
    const r = mk(g, 'rect', {x: X(ms - 1), y: Y(f), width: 2 * 1.7575 + .2, height: L.y0 - Y(f), fill: barColor});
    
    
  });
  tail.forEach((f, i) => {
    if (f <= 0) return;
    const ms = 180 + i * 4;
    const r = mk(g, 'rect', {x: X(ms), y: Y(f), width: 3, height: L.y0 - Y(f), fill: barColor});
    
    
  });
  const pts = curve.map((f, i) => [X(60 + i * 5), Y(f)]);
  let d = 'M' + pts[0][0] + ' ' + pts[0][1];
  for (let i = 0; i < pts.length - 1; i++) {
    const p0 = pts[Math.max(0, i - 1)], p1 = pts[i], p2 = pts[i + 1], p3 = pts[Math.min(pts.length - 1, i + 2)];
    d += ` C${p1[0] + (p2[0] - p0[0]) / 6} ${p1[1] + (p2[1] - p0[1]) / 6} ${p2[0] - (p3[0] - p1[0]) / 6} ${p2[1] - (p3[1] - p1[1]) / 6} ${p2[0]} ${p2[1]}`;
  }
  const c = mk(g, 'path', {d: d, fill: 'none', stroke: '#2b2b2b', 'stroke-width': 1});
  
  
  const xa = mk(g, 'line', {x1: L.x0, x2: L.xEnd, y1: L.y0, y2: L.y0, stroke: '#444', 'stroke-width': 1});
  
  
  const ya = mk(g, 'line', {x1: L.x0, x2: L.x0, y1: L.yTop, y2: L.y0, stroke: '#bbb', 'stroke-width': 1});
  
  
  msTicks.forEach(t => {
    const tk = mk(g, 'line', {x1: X(t), x2: X(t), y1: L.y0 - 5, y2: L.y0, stroke: '#555', 'stroke-width': 1});
    
    
    const lb = mk(g, 'text', {x: X(t), y: L.y0 + 11, dy: '.36em', 'font-size': 11.5, 'text-anchor': 'middle', fill: '#222', 'font-weight': 700}, String(t));
    
    
  });
  histFreqTicks.forEach(t => {
    const tk = mk(g, 'line', {x1: L.x0, x2: L.x0 + 4, y1: Y(t), y2: Y(t), stroke: '#777', 'stroke-width': 1});
    
    
    const lb = mk(g, 'text', {x: L.x0 - 3.5, y: Y(t), dy: '.36em', 'font-size': 11.5, 'text-anchor': 'end', fill: '#222', 'font-weight': 700, textLength: String(t).length * 6.7, lengthAdjust: 'spacingAndGlyphs'}, String(t));
    
    
  });
  /* pie: majority clockwise from 12 o'clock */
  const total = share.reduce((a, b) => a + b, 0);
  let start = 0;
  share.forEach((s, i) => {
    const a0 = start / total * 2 * Math.PI, a1 = (start + s) / total * 2 * Math.PI;
    start += s;
    const big = a1 - a0 > Math.PI ? 1 : 0;
    const px = a => L.pieX + L.pieR * Math.sin(a), py = a => L.pieY - L.pieR * Math.cos(a);
    const sl = mk(g, 'path', {d: `M${L.pieX} ${L.pieY} L${px(a0)} ${py(a0)} A${L.pieR} ${L.pieR} 0 ${big} 1 ${px(a1)} ${py(a1)} Z`, fill: pieColors[i]});
    
    
    const sw = mk(g, 'rect', {x: L.legX, y: L.legY + i * 9.5 - 3, width: 7, height: 6, fill: pieColors[i], stroke: '#444', 'stroke-width': .6});
    
    
    const tx = mk(g, 'text', {x: L.legX + 11.5, y: L.legY + i * 9.5 + 2.8, 'font-size': 8.2, 'font-weight': 700, fill: '#333', style: 'white-space:pre'}, printed[i] + '  ' + pieLabels[i]);
    
    
  });
  const ring = mk(g, 'circle', {cx: L.pieX, cy: L.pieY, r: L.pieR, fill: 'none', stroke: '#222', 'stroke-width': .8});
  
  
}

drawHistogram('group-1', {x0:91,xEnd:600.6,x100:162.2,y0:810.3,yTop:701.7,pieX:449,pieY:749.3,pieR:37,legX:502,legY:716.7}, barsG1,curveG1,tailG1,histMsTicksShort,'#5a30ad',shareG1,sharePrintedG1,['#2e0094','#a9a0f0','#ffffff']);
drawHistogram('group-2', {x0:91,xEnd:600.6,x100:162.2,y0:965,yTop:856.7,pieX:449,pieY:910.7,pieR:37,legX:502,legY:878.3}, barsG2,curveG2,tailG2,histMsTicksShort,'#ee2a84',shareG2,sharePrintedG2,['#ff0066','#ffc4ea','#ffffff']);
drawHistogram('group-3', {x0:782.4,xEnd:1291.7,x100:852.5,y0:810.3,yTop:701.7,pieX:1120.5,pieY:749.3,pieR:37,legX:1174,legY:716.7}, barsG3,curveG3,tailG3,histMsTicksLong,'#f2a57a',shareG3,sharePrintedG3,['#ff9966','#fdeed6','#ffffff']);
drawHistogram('group-4', {x0:782.4,xEnd:1291.7,x100:852.5,y0:965,yTop:856.7,pieX:1120.5,pieY:910.7,pieR:37,legX:1174,legY:878.3}, barsG4,curveG4,tailG4,histMsTicksLong,'#2fc42f',shareG4,sharePrintedG4,['#00bb00','#c8f4e4','#ffffff']);
</script>
</body>
</html>
